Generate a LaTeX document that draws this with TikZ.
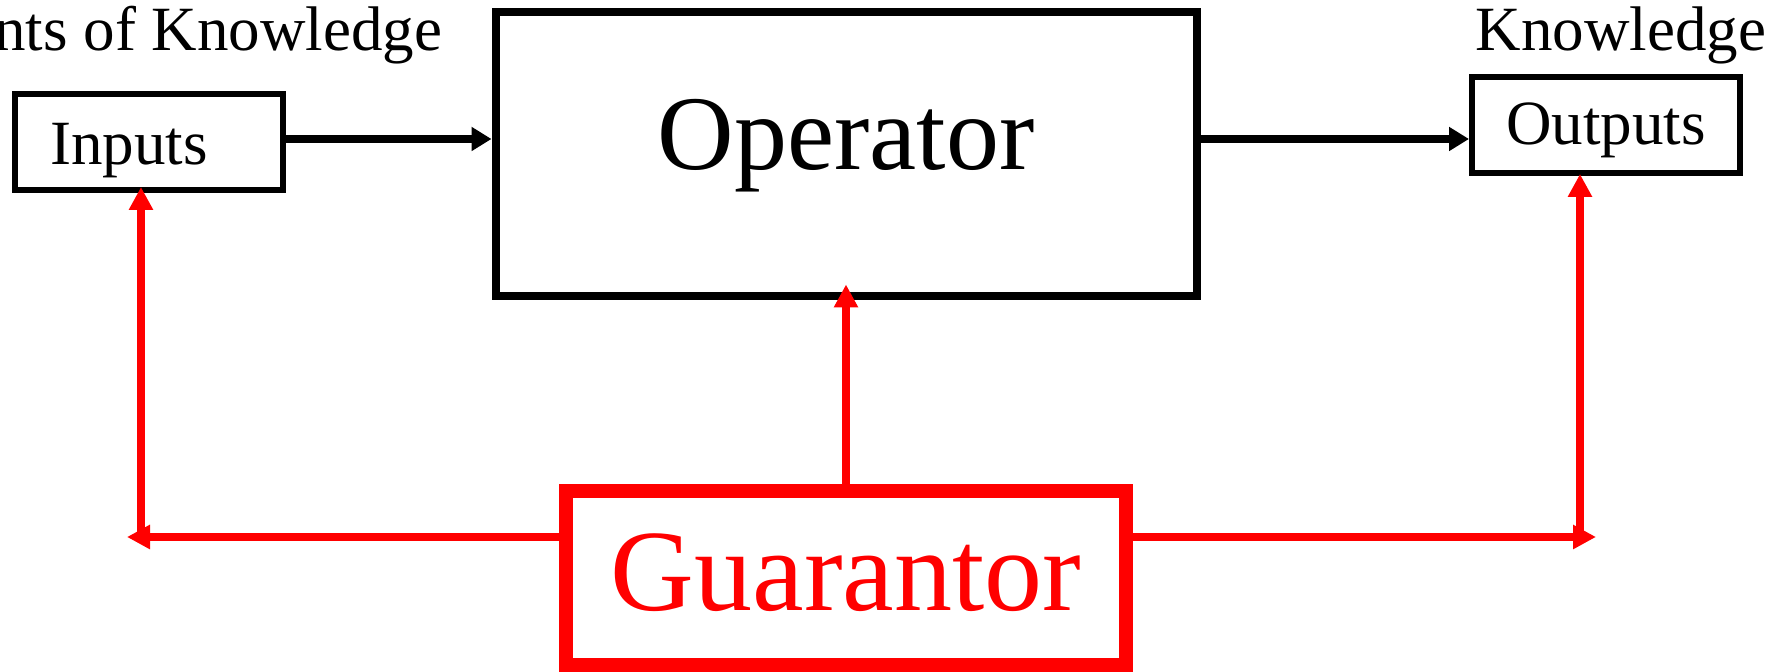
\documentclass[tikz,border=0pt]{standalone}
\usepackage{fontspec}
\setmainfont{Liberation Serif}
\usetikzlibrary{arrows.meta,calc}

\begin{document}
\begin{tikzpicture}[x=0.25pt,y=-0.25pt,
  smallbox/.style={draw,line width=1.5pt,minimum width=67pt,minimum height=24pt,
    inner sep=0pt,font=\fontsize{15.75pt}{18pt}\selectfont,text depth=0pt},
  toptext/.style={inner sep=0pt,font=\fontsize{15.75pt}{18pt}\selectfont},
  blackarrow/.style={line width=2pt,-{Triangle[length=5pt,width=5.75pt]}},
  redarrow/.style={red,line width=1.9pt,-{Triangle[length=5.75pt,width=5.75pt]}}]
\useasboundingbox (0,0) rectangle (1781,672);
% boxes
\node[smallbox,text height=11.5pt,text width=49pt,align=left,inner xsep=9pt] (inputs) at (148.5,142) {Inputs};
\node[smallbox,text height=10pt] (outputs) at (1606,125) {Outputs};
\node[draw,line width=2pt,minimum width=175.25pt,minimum height=71pt,inner sep=0pt,
  font=\fontsize{26.5pt}{30pt}\selectfont,text depth=0pt,text height=7.75pt] (operator) at (846,154.5) {Operator};
\node[draw=red,text=red,line width=3.6pt,minimum width=140pt,minimum height=43.5pt,inner sep=0pt,
  font=\fontsize{29pt}{33pt}\selectfont,text depth=0pt,text height=16.5pt] (guarantor) at (846,578) {Guarantor};
% texts above
\node[toptext,anchor=base east] (inknow) at (443,51) {nts of Knowledge};
\node[toptext,anchor=base] (outknow) at (1621,51) {Knowledge};
% black arrows
\coordinate (flow) at (0,139);
\draw[blackarrow] (inputs.east |- flow) -- (operator.west |- flow);
\draw[blackarrow] (operator.east |- flow) -- (outputs.west |- flow);
% red arrows
\coordinate (lcorner) at (141,537);
\coordinate (rcorner) at (1580,537);
\coordinate (ltip) at (127,537);
\coordinate (rtip) at (1596,537);
\draw[redarrow] (guarantor.north) -- ([yshift=4pt]operator.south);
\draw[redarrow] (guarantor.west |- lcorner) -- (ltip);
\draw[redarrow] (lcorner) -- ($(inputs.south -| lcorner)+(0,-6)$);
\draw[redarrow] (guarantor.east |- rcorner) -- (rtip);
\draw[redarrow] (rcorner) -- ($(outputs.south -| rcorner)+(0,-2)$);
\end{tikzpicture}
\end{document}
